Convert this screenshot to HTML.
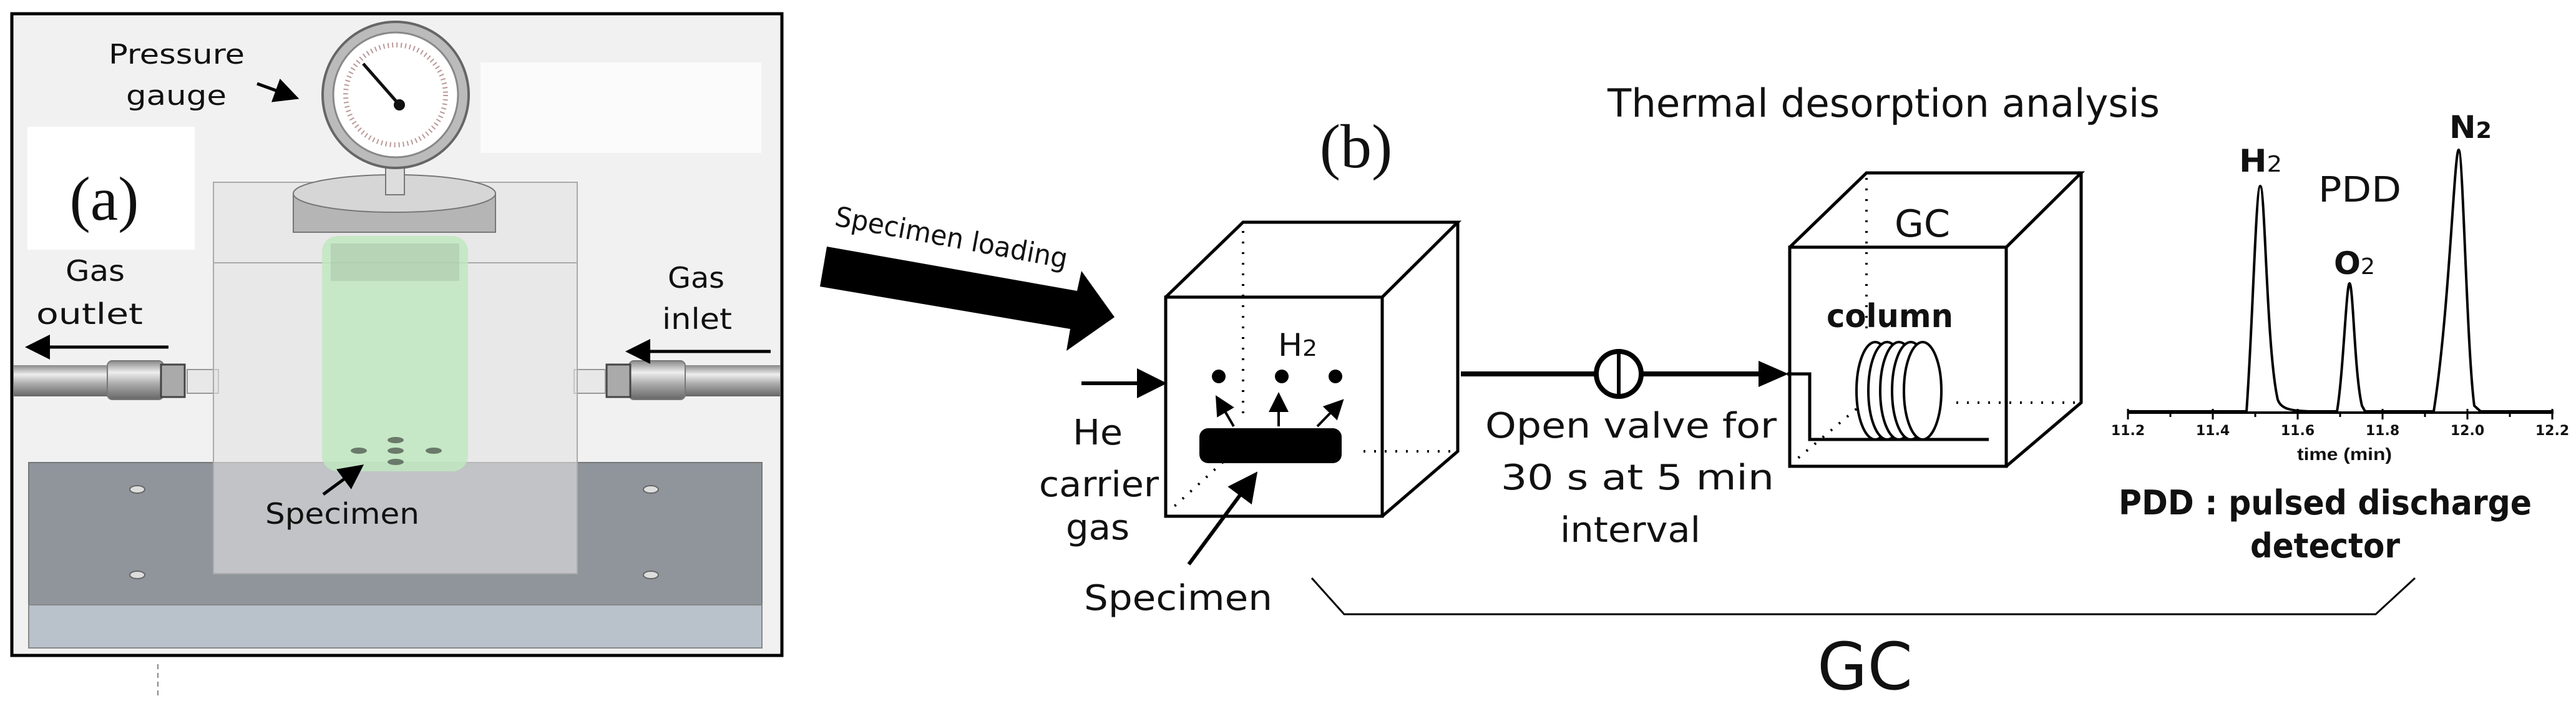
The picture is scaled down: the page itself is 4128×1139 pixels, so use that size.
<!DOCTYPE html>
<html><head><meta charset="utf-8"><style>
html,body{margin:0;padding:0;background:#fff}
svg{display:block}
text{font-family:"DejaVu Sans","Liberation Sans",sans-serif;fill:#111}
</style></head><body>
<svg width="4128" height="1139" viewBox="0 0 4128 1139" xmlns="http://www.w3.org/2000/svg">
<defs>
<marker id="ah" markerWidth="8" markerHeight="8" refX="6" refY="4" orient="auto" markerUnits="strokeWidth"><path d="M0,0 L8,4 L0,8 z" fill="#000"/></marker>
<linearGradient id="tube" x1="0" y1="0" x2="0" y2="1"><stop offset="0" stop-color="#888"/><stop offset="0.3" stop-color="#eee"/><stop offset="0.6" stop-color="#aaa"/><stop offset="1" stop-color="#666"/></linearGradient>
</defs>
<!-- Panel (a) -->
<rect x="19" y="22" width="1234" height="1028" fill="#f1f1f1" stroke="#000" stroke-width="5"/>
<rect x="770" y="100" width="450" height="145" fill="#fbfbfb"/>
<rect x="44" y="203" width="268" height="197" fill="#fff"/>
<!-- base -->
<rect x="46" y="741" width="1175" height="228" fill="#8f959b" stroke="#777" stroke-width="2"/>
<rect x="46" y="969" width="1175" height="69" fill="#b9c1cb" stroke="#888" stroke-width="2"/>
<g fill="#ddd" stroke="#666" stroke-width="2"><ellipse cx="220" cy="784" rx="12" ry="6"/><ellipse cx="220" cy="921" rx="12" ry="6"/><ellipse cx="1043" cy="784" rx="12" ry="6"/><ellipse cx="1043" cy="921" rx="12" ry="6"/></g>
<!-- tubes -->
<rect x="22" y="585" width="160" height="50" fill="url(#tube)"/>
<rect x="172" y="578" width="90" height="62" rx="8" fill="url(#tube)" stroke="#777" stroke-width="2"/>
<rect x="258" y="584" width="38" height="52" fill="#aaa" stroke="#444" stroke-width="3"/>
<rect x="300" y="592" width="50" height="38" fill="#e8e8e8" stroke="#999" stroke-width="2"/>
<rect x="1088" y="585" width="162" height="50" fill="url(#tube)"/>
<rect x="1008" y="578" width="90" height="62" rx="8" fill="url(#tube)" stroke="#777" stroke-width="2"/>
<rect x="972" y="584" width="38" height="52" fill="#aaa" stroke="#444" stroke-width="3"/>
<rect x="920" y="592" width="50" height="38" fill="#e8e8e8" stroke="#999" stroke-width="2"/>
<!-- transparent box -->
<rect x="342" y="292" width="583" height="627" fill="#e2e2e2" fill-opacity="0.6" stroke="#aaa" stroke-width="2"/>
<line x1="342" y1="421" x2="925" y2="421" stroke="#aaa" stroke-width="2"/>
<!-- green cylinder -->
<rect x="516" y="378" width="234" height="377" rx="25" fill="#bfe8bf" fill-opacity="0.85"/>
<rect x="530" y="390" width="206" height="60" fill="#9ab09a" fill-opacity="0.35"/>
<g fill="#6a7a6a"><ellipse cx="575" cy="722" rx="13" ry="5"/><ellipse cx="695" cy="722" rx="13" ry="5"/><ellipse cx="634" cy="705" rx="13" ry="5"/><ellipse cx="634" cy="722" rx="13" ry="5"/><ellipse cx="634" cy="740" rx="13" ry="5"/></g>
<!-- flange -->
<rect x="470" y="310" width="324" height="62" fill="#b5b5b5" stroke="#777" stroke-width="2"/>
<ellipse cx="632" cy="310" rx="162" ry="30" fill="#d6d6d6" stroke="#777" stroke-width="2"/>
<rect x="618" y="262" width="30" height="50" fill="#ddd" stroke="#777" stroke-width="2"/>
<!-- gauge -->
<circle cx="634" cy="152" r="117" fill="#bbb" stroke="#666" stroke-width="4"/>
<circle cx="634" cy="152" r="100" fill="#fff" stroke="#888" stroke-width="3"/>
<circle cx="634" cy="152" r="80" fill="none" stroke="#b99" stroke-width="8" stroke-dasharray="2 5"/>
<line x1="582" y1="102" x2="640" y2="168" stroke="#111" stroke-width="5"/>
<circle cx="640" cy="168" r="9" fill="#111"/>
<text x="174" y="102" font-size="44" textLength="218" lengthAdjust="spacingAndGlyphs">Pressure</text>
<text x="202" y="168" font-size="44" textLength="161" lengthAdjust="spacingAndGlyphs">gauge</text>
<line x1="412" y1="134" x2="470" y2="155" stroke="#000" stroke-width="5" marker-end="url(#ah)"/>
<text x="167" y="352" font-size="100" text-anchor="middle" style="font-family:'Liberation Serif',serif">(a)</text>
<text x="105" y="450" font-size="46" textLength="95" lengthAdjust="spacingAndGlyphs">Gas</text>
<text x="58" y="519" font-size="46" textLength="171" lengthAdjust="spacingAndGlyphs">outlet</text>
<line x1="270" y1="556" x2="50" y2="556" stroke="#000" stroke-width="5" marker-end="url(#ah)"/>
<text x="1070" y="461" font-size="46" textLength="91" lengthAdjust="spacingAndGlyphs">Gas</text>
<text x="1061" y="527" font-size="46" textLength="112" lengthAdjust="spacingAndGlyphs">inlet</text>
<line x1="1235" y1="563" x2="1012" y2="563" stroke="#000" stroke-width="5" marker-end="url(#ah)"/>
<text x="425" y="839" font-size="46" textLength="247" lengthAdjust="spacingAndGlyphs">Specimen</text>
<line x1="518" y1="792" x2="575" y2="750" stroke="#000" stroke-width="5" marker-end="url(#ah)"/>
<line x1="253" y1="1064" x2="253" y2="1118" stroke="#888" stroke-width="2" stroke-dasharray="8 6"/>

<!-- Panel (b) -->
<text x="2173" y="268" font-size="100" text-anchor="middle" style="font-family:'Liberation Serif',serif">(b)</text>
<text x="1336" y="361" font-size="44" fill="#333" transform="rotate(10.5 1336 361)" textLength="378" lengthAdjust="spacingAndGlyphs">Specimen loading</text>
<polygon points="1325,395 1726,466 1733,434 1786,508 1709,562 1715,527 1314,459" fill="#000"/>
<!-- cube 1 -->
<g fill="none" stroke="#000" stroke-width="5">
<rect x="1868" y="476" width="347" height="351" fill="#fff"/>
<polyline points="1868,476 1992,356 2336,356 2215,476"/>
<polyline points="2336,356 2336,723 2215,827"/>
</g>
<g stroke="#000" stroke-width="4" stroke-dasharray="3 14">
<line x1="1992" y1="370" x2="1992" y2="670"/><line x1="2185" y1="723" x2="2336" y2="723"/><line x1="1960" y1="740" x2="1872" y2="820"/>
</g>
<text x="2048" y="570" font-size="50" textLength="63" lengthAdjust="spacingAndGlyphs">H<tspan font-size="36">2</tspan></text>
<g fill="#000"><circle cx="1953" cy="603" r="11"/><circle cx="2054" cy="603" r="11"/><circle cx="2140" cy="603" r="11"/></g>
<rect x="1922" y="686" width="228" height="56" rx="14" fill="#000"/>
<g stroke="#000" stroke-width="4" marker-end="url(#ah)">
<line x1="1977" y1="683" x2="1952" y2="640"/><line x1="2049" y1="683" x2="2049" y2="636"/><line x1="2111" y1="683" x2="2148" y2="645"/>
<line x1="1733" y1="614" x2="1858" y2="614" stroke-width="6"/>
<line x1="1905" y1="904" x2="2008" y2="765" stroke-width="6"/>
</g>
<text x="1719" y="712" font-size="56" textLength="80" lengthAdjust="spacingAndGlyphs">He</text>
<text x="1665" y="795" font-size="56" textLength="192" lengthAdjust="spacingAndGlyphs">carrier</text>
<text x="1708" y="864" font-size="56" textLength="102" lengthAdjust="spacingAndGlyphs">gas</text>
<text x="1737" y="977" font-size="56" textLength="302" lengthAdjust="spacingAndGlyphs">Specimen</text>
<!-- valve line -->
<line x1="2341" y1="599" x2="2556" y2="599" stroke="#000" stroke-width="8"/>
<circle cx="2594" cy="599" r="36" fill="#fff" stroke="#000" stroke-width="8"/>
<line x1="2594" y1="563" x2="2594" y2="635" stroke="#000" stroke-width="6"/>
<line x1="2630" y1="599" x2="2820" y2="599" stroke="#000" stroke-width="8"/>
<polygon points="2818,578 2866,599 2818,620" fill="#000"/>
<text x="2380" y="701" font-size="56" textLength="467" lengthAdjust="spacingAndGlyphs">Open valve for</text>
<text x="2405" y="784" font-size="56" textLength="438" lengthAdjust="spacingAndGlyphs">30 s at 5 min</text>
<text x="2500" y="868" font-size="56" textLength="225" lengthAdjust="spacingAndGlyphs">interval</text>
<text x="2576" y="187" font-size="62" textLength="885" lengthAdjust="spacingAndGlyphs">Thermal desorption analysis</text>
<!-- cube 2 -->
<g fill="none" stroke="#000" stroke-width="5">
<rect x="2868" y="396" width="347" height="351" fill="#fff"/>
<polyline points="2868,396 2991,277 3335,277 3215,396"/>
<polyline points="3335,277 3335,645 3215,747"/>
</g>
<g stroke="#000" stroke-width="4" stroke-dasharray="3 14">
<line x1="2991" y1="285" x2="2991" y2="535"/><line x1="3135" y1="645" x2="3335" y2="645"/><line x1="2975" y1="655" x2="2880" y2="735"/>
</g>
<text x="3036" y="379" font-size="60" textLength="89" lengthAdjust="spacingAndGlyphs">GC</text>
<text x="2927" y="524" font-size="52" font-weight="bold" textLength="203" lengthAdjust="spacingAndGlyphs">column</text>
<polyline points="2864,599 2900,599 2900,704 3187,704" fill="none" stroke="#000" stroke-width="5"/>
<g fill="#fff" stroke="#000" stroke-width="4">
<ellipse cx="3005" cy="626" rx="30" ry="78"/><ellipse cx="3024" cy="626" rx="30" ry="78"/><ellipse cx="3043" cy="626" rx="30" ry="78"/><ellipse cx="3062" cy="626" rx="30" ry="78"/><ellipse cx="3081" cy="626" rx="30" ry="78"/>
</g>
<!-- chromatogram -->
<line x1="3410" y1="661" x2="4092" y2="661" stroke="#000" stroke-width="4"/>
<g stroke="#000" stroke-width="3">
<line x1="3410" y1="655" x2="3410" y2="672"/><line x1="3478" y1="661" x2="3478" y2="668"/><line x1="3546" y1="655" x2="3546" y2="672"/><line x1="3614" y1="661" x2="3614" y2="668"/><line x1="3682" y1="655" x2="3682" y2="672"/><line x1="3750" y1="661" x2="3750" y2="668"/><line x1="3818" y1="655" x2="3818" y2="672"/><line x1="3886" y1="661" x2="3886" y2="668"/><line x1="3954" y1="655" x2="3954" y2="672"/><line x1="4022" y1="661" x2="4022" y2="668"/><line x1="4090" y1="655" x2="4090" y2="672"/>
</g>
<g font-size="22" font-weight="bold" fill="#333" text-anchor="middle" style="font-family:'Liberation Sans',sans-serif">
<text x="3410" y="697">11.2</text><text x="3546" y="697">11.4</text><text x="3682" y="697">11.6</text><text x="3818" y="697">11.8</text><text x="3954" y="697">12.0</text><text x="4090" y="697">12.2</text>
</g>
<text x="3681" y="737" font-size="28" font-weight="bold" fill="#333" textLength="152" lengthAdjust="spacingAndGlyphs" style="font-family:'Liberation Sans',sans-serif">time (min)</text>
<path d="M3410,659 L3600,659 C3610,520 3615,298 3622,298 C3630,298 3632,560 3650,640 C3655,655 3670,658 3700,659 L3745,659 C3755,600 3760,454 3765,454 C3771,454 3773,600 3785,650 L3790,659 L3900,659 C3925,500 3933,240 3940,240 C3947,240 3953,560 3965,650 L3975,659 L4092,659" fill="none" stroke="#000" stroke-width="4"/>
<text x="3588" y="275" font-size="50" font-weight="bold" textLength="69" lengthAdjust="spacingAndGlyphs">H<tspan font-size="36" font-weight="normal">2</tspan></text>
<text x="3740" y="439" font-size="50" font-weight="bold" textLength="66" lengthAdjust="spacingAndGlyphs">O<tspan font-size="36" font-weight="normal">2</tspan></text>
<text x="3925" y="221" font-size="50" font-weight="bold" textLength="68" lengthAdjust="spacingAndGlyphs">N<tspan font-size="36">2</tspan></text>
<text x="3715" y="323" font-size="56" textLength="133" lengthAdjust="spacingAndGlyphs">PDD</text>
<text x="3395" y="824" font-size="54" font-weight="bold" textLength="662" lengthAdjust="spacingAndGlyphs">PDD : pulsed discharge</text>
<text x="3606" y="893" font-size="54" font-weight="bold" textLength="240" lengthAdjust="spacingAndGlyphs">detector</text>
<!-- bracket -->
<polyline points="2102,926 2154,984 3807,984 3870,926" fill="none" stroke="#000" stroke-width="3"/>
<text x="2912" y="1104" font-size="104" textLength="153" lengthAdjust="spacingAndGlyphs">GC</text>
</svg>
</body></html>
